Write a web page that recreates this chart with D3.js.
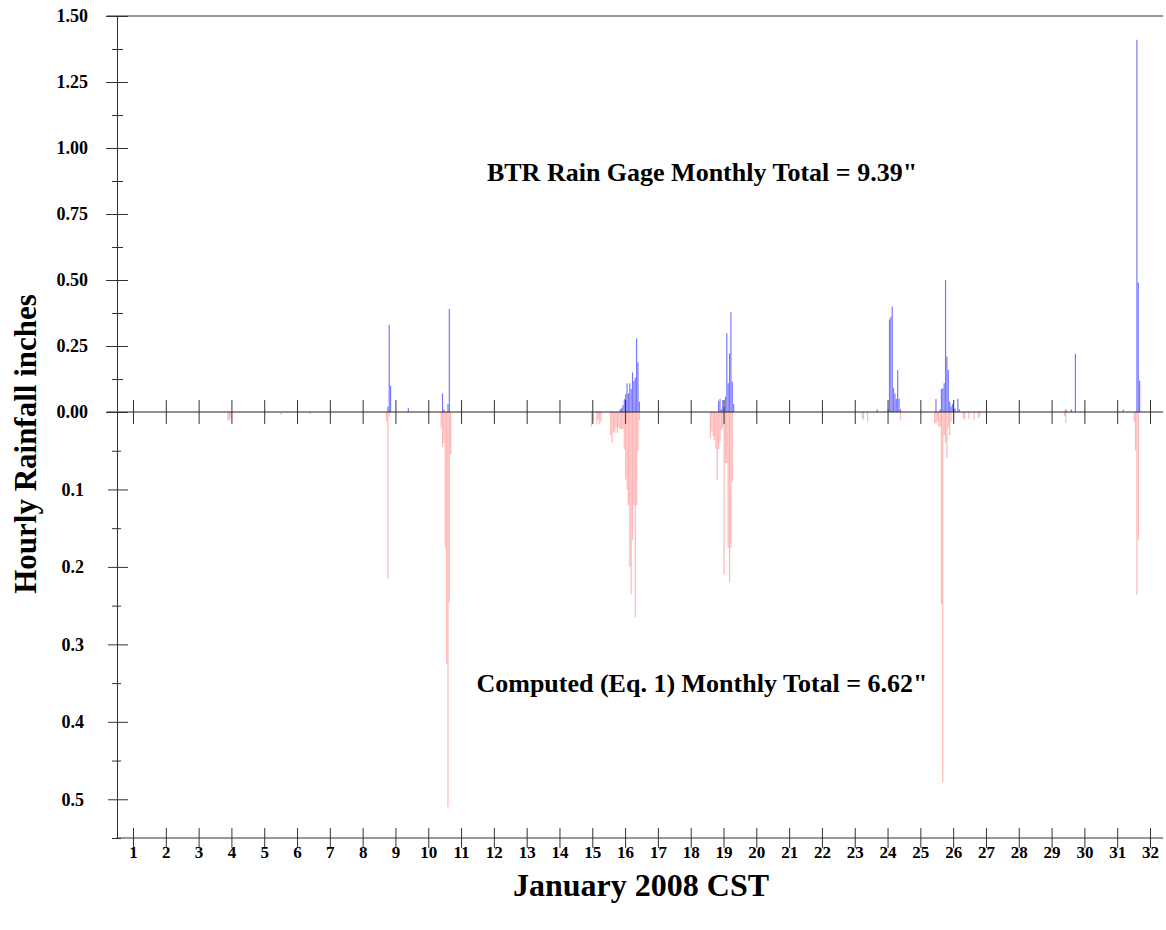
<!DOCTYPE html>
<html lang="en">
<head>
    <meta charset="UTF-8">
    <title>Hourly Rainfall January 2008</title>
    <script src="https://cdnjs.cloudflare.com/ajax/libs/d3/7.8.5/d3.min.js"></script>
    <style>
        body {
            margin: 0;
            padding: 0;
            background-color: #fff;
        }
        svg text {
            font-family: "Liberation Serif", "Times New Roman", serif;
            font-weight: bold;
            fill: #000;
        }
        .tick line, .domain {
            stroke: #333;
            stroke-width: 1px;
        }
    </style>
</head>
<body>
    <div id="chart"></div>
    <script>
        // [day, hour, inches] -- BTR rain gage (plotted upward)
        const gageBars = [
            [8, 18, 0.02], [8, 19, 0.33], [8, 20, 0.10],
            [9, 9, 0.015],
            [10, 10, 0.07], [10, 11, 0.01], [10, 14, 0.03], [10, 15, 0.39],
            [15, 20, 0.01], [15, 21, 0.015], [15, 22, 0.026], [15, 23, 0.049],
            [16, 0, 0.068], [16, 1, 0.109], [16, 2, 0.07], [16, 3, 0.109], [16, 4, 0.087],
            [16, 5, 0.15], [16, 6, 0.117], [16, 7, 0.13], [16, 8, 0.279], [16, 9, 0.188], [16, 10, 0.04],
            [18, 20, 0.042], [18, 21, 0.049], [18, 22, 0.01], [18, 23, 0.045],
            [19, 0, 0.02], [19, 1, 0.058], [19, 2, 0.298], [19, 3, 0.109], [19, 4, 0.222],
            [19, 5, 0.378], [19, 6, 0.115], [19, 7, 0.03],
            [23, 16, 0.01],
            [24, 0, 0.01], [24, 1, 0.351], [24, 2, 0.361], [24, 3, 0.399], [24, 4, 0.09],
            [24, 5, 0.07], [24, 6, 0.05], [24, 7, 0.159], [24, 8, 0.05], [24, 9, 0.01],
            [25, 11, 0.049], [25, 14, 0.01], [25, 15, 0.087], [25, 16, 0.09], [25, 17, 0.109],
            [25, 18, 0.50], [25, 19, 0.21], [25, 20, 0.159], [25, 21, 0.04], [25, 22, 0.02], [25, 23, 0.03],
            [26, 0, 0.013], [26, 1, 0.013], [26, 3, 0.05], [26, 4, 0.01],
            [29, 10, 0.01], [29, 14, 0.01], [29, 17, 0.22],
            [31, 4, 0.01], [31, 14, 1.41], [31, 15, 0.49], [31, 16, 0.119]
        ];

        // [day, hour, inches] -- computed with Eq. 1 (plotted downward)
        const computedBars = [
            [3, 21, 0.01], [3, 22, 0.012], [3, 23, 0.008],
            [5, 12, 0.004], [6, 9, 0.003],
            [8, 17, 0.012], [8, 18, 0.215], [8, 19, 0.006],
            [10, 9, 0.02], [10, 10, 0.045], [10, 11, 0.04], [10, 12, 0.175], [10, 13, 0.325],
            [10, 14, 0.51], [10, 15, 0.245], [10, 16, 0.055],
            [14, 23, 0.019], [15, 0, 0.012], [15, 3, 0.016], [15, 4, 0.01], [15, 5, 0.016], [15, 6, 0.012],
            [15, 13, 0.03], [15, 14, 0.04], [15, 15, 0.025], [15, 16, 0.027], [15, 17, 0.02],
            [15, 18, 0.027], [15, 19, 0.02], [15, 20, 0.022], [15, 21, 0.022], [15, 22, 0.022], [15, 23, 0.048],
            [16, 0, 0.087], [16, 1, 0.1], [16, 2, 0.12], [16, 3, 0.2], [16, 4, 0.235], [16, 5, 0.165],
            [16, 6, 0.12], [16, 7, 0.265], [16, 8, 0.12], [16, 9, 0.05], [16, 10, 0.01],
            [18, 14, 0.034], [18, 15, 0.025], [18, 16, 0.031], [18, 17, 0.036], [18, 18, 0.048],
            [18, 19, 0.088], [18, 20, 0.048], [18, 21, 0.038], [18, 22, 0.023], [18, 23, 0.02],
            [19, 0, 0.21], [19, 1, 0.066], [19, 2, 0.066], [19, 3, 0.175], [19, 4, 0.22],
            [19, 5, 0.175], [19, 6, 0.09],
            [23, 5, 0.008], [23, 6, 0.01], [23, 9, 0.012],
            [24, 9, 0.01],
            [25, 10, 0.014], [25, 11, 0.016], [25, 12, 0.012], [25, 13, 0.019], [25, 14, 0.019],
            [25, 15, 0.248], [25, 16, 0.478], [25, 17, 0.03], [25, 18, 0.04], [25, 19, 0.06],
            [25, 20, 0.02], [25, 21, 0.03], [25, 22, 0.012],
            [26, 0, 0.008], [26, 7, 0.008], [26, 8, 0.01], [26, 11, 0.009], [26, 15, 0.01],
            [26, 18, 0.008], [26, 19, 0.006],
            [29, 9, 0.005], [29, 10, 0.014],
            [31, 12, 0.012], [31, 13, 0.05], [31, 14, 0.236], [31, 15, 0.165]
        ];

        const dayTicks = d3.range(1, 33);
        const upMajor = [0, 0.25, 0.5, 0.75, 1.0, 1.25, 1.5];
        const upMinor = [0.125, 0.375, 0.625, 0.875, 1.125, 1.375];
        const downMajor = [0.1, 0.2, 0.3, 0.4, 0.5];
        const downMinor = [0.05, 0.15, 0.25, 0.35, 0.45, 0.55];

        const gageLabel = "BTR Rain Gage Monthly Total = 9.39\"";
        const computedLabel = "Computed (Eq. 1) Monthly Total = 6.62\"";

        const W = 1166, H = 930;
        const axisX = 117, zeroY = 412;

        const svg = d3.select("#chart").append("svg")
            .attr("width", W)
            .attr("height", H);

        const x = d3.scaleLinear().domain([1, 32]).range([133, 1150]);
        const yUp = d3.scaleLinear().domain([0, 1.5]).range([zeroY, 16]);
        const yDown = d3.scaleLinear().domain([0, 0.55]).range([zeroY, 838]);

        const hourW = x(1 + 1 / 24) - x(1);
        const t = d => d[0] + d[1] / 24;

        // bars
        svg.append("g").selectAll("rect")
            .data(computedBars)
            .enter().append("rect")
            .attr("x", d => x(t(d)))
            .attr("y", zeroY)
            .attr("width", hourW * 0.85)
            .attr("height", d => yDown(d[2]) - zeroY)
            .attr("fill", "#ff5c5c")
            .attr("fill-opacity", 0.45);

        svg.append("g").selectAll("rect")
            .data(gageBars)
            .enter().append("rect")
            .attr("x", d => x(t(d)))
            .attr("y", d => yUp(d[2]))
            .attr("width", hourW * 0.85)
            .attr("height", d => zeroY - yUp(d[2]))
            .attr("fill", "#1a1aff")
            .attr("fill-opacity", 0.6);

        // frame lines
        const xl = x(0.5), xr = x(32.4);
        svg.append("line").attr("x1", xl - 10).attr("x2", xr).attr("y1", 16).attr("y2", 16)
            .attr("stroke", "#333");
        svg.append("line").attr("x1", xl - 10).attr("x2", xr).attr("y1", zeroY).attr("y2", zeroY)
            .attr("stroke", "#222");
        svg.append("line").attr("x1", xl).attr("x2", xr).attr("y1", 838).attr("y2", 838)
            .attr("stroke", "#333");

        // y axes: ticks cross the axis line
        function crossTicks(scale, values, left, right) {
            svg.append("g").attr("transform", `translate(${axisX},0)`)
                .call(d3.axisLeft(scale).tickValues(values).tickSize(left).tickFormat("").tickSizeOuter(0));
            svg.append("g").attr("transform", `translate(${axisX},0)`)
                .call(d3.axisRight(scale).tickValues(values).tickSize(right).tickFormat(""))
                .select(".domain").remove();
        }
        crossTicks(yUp, upMajor, 11, 11);
        crossTicks(yUp, upMinor, 5, 6);
        crossTicks(yDown, downMajor, 9, 11);
        crossTicks(yDown, downMinor, 5, 4);

        const upLabels = svg.append("g").attr("transform", `translate(${axisX},0)`)
            .call(d3.axisLeft(yUp).tickValues(upMajor).tickSize(0).tickPadding(29).tickFormat(d3.format(".2f")));
        upLabels.select(".domain").remove();
        const downLabels = svg.append("g").attr("transform", `translate(${axisX},0)`)
            .call(d3.axisLeft(yDown).tickValues(downMajor).tickSize(0).tickPadding(33).tickFormat(d3.format(".1f")));
        downLabels.select(".domain").remove();
        svg.selectAll(".tick text").style("font-size", "18px").style("font-family", null);

        // day ticks on zero line and bottom axis
        function dayCross(yPos, up, down) {
            const g1 = svg.append("g").attr("transform", `translate(0,${yPos})`)
                .call(d3.axisTop(x).tickValues(dayTicks).tickSize(up).tickFormat(""));
            g1.select(".domain").remove();
            const g2 = svg.append("g").attr("transform", `translate(0,${yPos})`)
                .call(d3.axisBottom(x).tickValues(dayTicks).tickSize(down).tickFormat(""));
            g2.select(".domain").remove();
        }
        dayCross(zeroY, 12, 12);
        dayCross(838, 10, 10);

        const xLabels = svg.append("g").attr("transform", "translate(0,838)")
            .call(d3.axisBottom(x).tickValues(dayTicks).tickSize(0).tickPadding(8).tickFormat(d3.format("d")));
        xLabels.select(".domain").remove();
        xLabels.selectAll("text").style("font-size", "17px").style("font-family", null);
        svg.selectAll(".tick text").attr("fill", "#000");

        // titles
        svg.append("text")
            .attr("transform", "translate(36,444) rotate(-90)")
            .attr("text-anchor", "middle")
            .style("font-size", "31px")
            .text("Hourly Rainfall inches");

        svg.append("text")
            .attr("x", 641).attr("y", 896)
            .attr("text-anchor", "middle")
            .style("font-size", "32px")
            .text("January 2008 CST");

        svg.append("text")
            .attr("x", 702).attr("y", 181)
            .attr("text-anchor", "middle")
            .style("font-size", "26px")
            .text(gageLabel);

        svg.append("text")
            .attr("x", 702).attr("y", 692)
            .attr("text-anchor", "middle")
            .style("font-size", "26px")
            .text(computedLabel);
    </script>
</body>
</html>
